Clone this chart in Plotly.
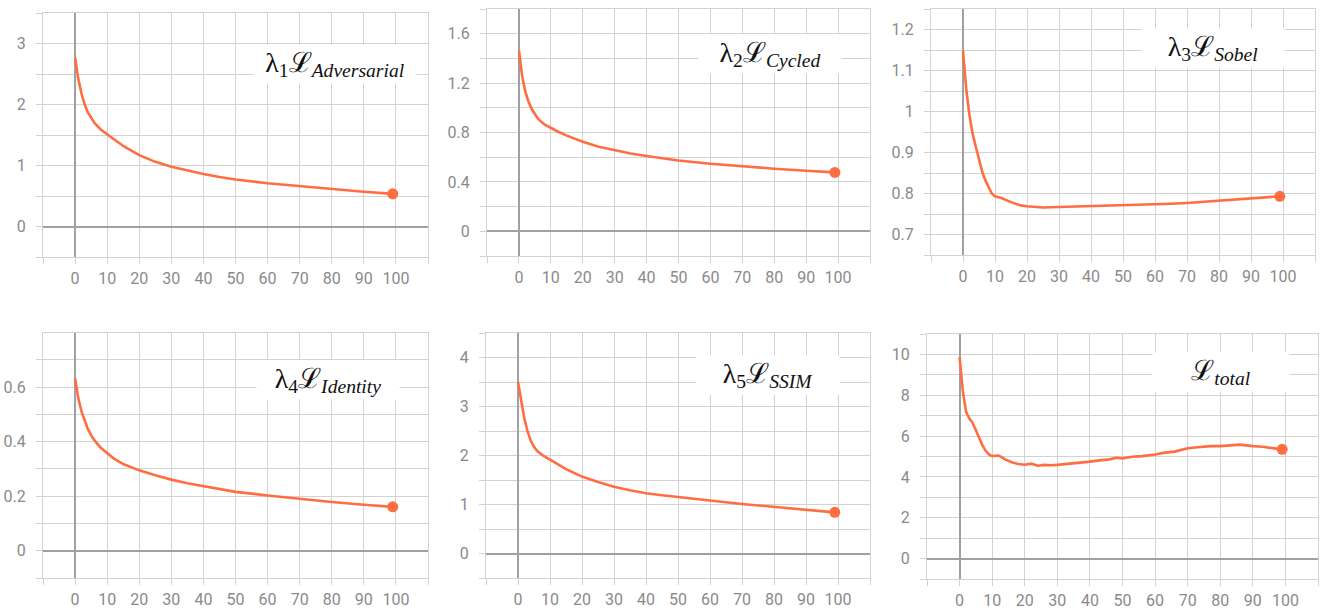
import plotly.graph_objects as go

# ---------------- data ----------------
epochs_a = [0, 1, 2, 3, 4, 5, 6, 8, 10, 12, 15, 20, 25, 30, 35, 40, 45, 50, 60, 70, 80, 90, 99]
loss_adversarial = [2.77, 2.42, 2.18, 2.00, 1.87, 1.78, 1.70, 1.59, 1.51, 1.435, 1.32, 1.17, 1.06,
                    0.98, 0.915, 0.86, 0.81, 0.77, 0.71, 0.66, 0.61, 0.57, 0.535]
loss_cycled = [1.465, 1.26, 1.13, 1.05, 0.99, 0.945, 0.91, 0.865, 0.835, 0.81, 0.775, 0.725, 0.685,
               0.655, 0.63, 0.61, 0.59, 0.573, 0.547, 0.525, 0.507, 0.49, 0.477]
loss_identity = [0.633, 0.56, 0.511, 0.474, 0.446, 0.424, 0.406, 0.378, 0.357, 0.339, 0.318, 0.295,
                 0.277, 0.261, 0.248, 0.237, 0.226, 0.216, 0.203, 0.19, 0.179, 0.169, 0.161]
loss_ssim = [3.50, 3.08, 2.75, 2.49, 2.30, 2.18, 2.09, 1.99, 1.92, 1.84, 1.72, 1.57, 1.46,
             1.36, 1.29, 1.23, 1.19, 1.15, 1.08, 1.01, 0.95, 0.89, 0.84]

epochs_sobel = [0, 1, 2, 3, 4, 5, 6, 7, 8, 9, 10, 12, 15, 18, 20, 25, 30, 40, 50, 60, 65, 70, 80, 90, 99]
loss_sobel = [1.148, 1.056, 0.992, 0.946, 0.914, 0.881, 0.853, 0.832, 0.814, 0.800, 0.793, 0.789,
              0.779, 0.771, 0.769, 0.766, 0.767, 0.769, 0.771, 0.773, 0.775, 0.777, 0.782, 0.788, 0.793]

epochs_total = [0, 1, 2, 3, 4, 5, 6, 7, 8, 9, 10, 12, 14, 16, 18, 20, 22, 24, 26, 28, 30, 33, 36, 40,
                43, 46, 48, 50, 53, 56, 60, 63, 66, 70, 73, 77, 80, 83, 86, 90, 93, 96, 99]
loss_total = [9.87, 8.2, 7.19, 6.86, 6.65, 6.26, 5.89, 5.56, 5.28, 5.10, 5.02, 5.05, 4.86, 4.72, 4.63,
              4.60, 4.65, 4.55, 4.59, 4.57, 4.59, 4.63, 4.70, 4.75, 4.81, 4.86, 4.94, 4.91, 4.99, 5.02,
              5.10, 5.19, 5.24, 5.40, 5.45, 5.51, 5.51, 5.54, 5.58, 5.51, 5.48, 5.41, 5.35]

x_tick_values = [0, 10, 20, 30, 40, 50, 60, 70, 80, 90, 100]
x_tick_labels = ["0", "10", "20", "30", "40", "50", "60", "70", "80", "90", "100"]

titles = [
    "λ<sub>1</sub>ℒ<sub><i>Adversarial</i></sub>",
    "λ<sub>2</sub>ℒ<sub><i>Cycled</i></sub>",
    "λ<sub>3</sub>ℒ<sub><i>Sobel</i></sub>",
    "λ<sub>4</sub>ℒ<sub><i>Identity</i></sub>",
    "λ<sub>5</sub>ℒ<sub><i>SSIM</i></sub>",
    "ℒ<sub><i>total</i></sub>",
]

series = [
    (epochs_a, loss_adversarial),
    (epochs_a, loss_cycled),
    (epochs_sobel, loss_sobel),
    (epochs_a, loss_identity),
    (epochs_a, loss_ssim),
    (epochs_total, loss_total),
]

# ---------------- style / layout ----------------
W, H = 1320, 610
# plot-area boxes in window pixels: (left, top, right, bottom)
boxes = [
    (43, 13, 428, 257), (487, 9, 870, 256), (931, 9, 1315, 255),
    (43, 333, 428, 578), (486, 333, 870, 578), (927, 334, 1318, 579),
]
y_ranges = [(-0.5, 3.5), (-0.2, 1.8), (0.65, 1.25), (-0.1, 0.799), (-0.5, 4.5), (-1, 11)]
y_dticks = [1, 0.4, 0.1, 0.2, 1, 2]
y_minor = [0.5, 0.2, 0.05, 0.1, 0.5, 1]
title_pos = [(0.758, 0.791, 160), (0.738, 0.816, 140), (0.734, 0.843, 140),
             (0.739, 0.81, 140), (0.734, 0.827, 140), (0.753, 0.843, 134)]

GRID = "#d2d2d2"
ZERO = "#a0a0a0"
LINE = "#ff6e40"
TICKFONT = dict(family="Roboto, sans-serif", size=16, color="#8a8a8a")

fig = go.Figure()
layout = dict(width=W, height=H, margin=dict(l=0, r=0, t=0, b=0, autoexpand=False),
              paper_bgcolor="white", plot_bgcolor="white", showlegend=False,
              annotations=[])

for i, ((xs, ys), box) in enumerate(zip(series, boxes)):
    n = i + 1
    xa = "x" if n == 1 else f"x{n}"
    ya = "y" if n == 1 else f"y{n}"
    l, t, r, b = box
    xdom = [l / W, r / W]
    ydom = [1 - b / H, 1 - t / H]

    fig.add_trace(go.Scatter(x=xs, y=ys, mode="lines", xaxis=xa, yaxis=ya,
                             line=dict(color=LINE, width=2.6, shape="linear"),
                             hoverinfo="skip"))
    fig.add_trace(go.Scatter(x=[xs[-1]], y=[ys[-1]], mode="markers", xaxis=xa, yaxis=ya,
                             marker=dict(color=LINE, size=11), hoverinfo="skip"))

    xkey = "xaxis" if n == 1 else f"xaxis{n}"
    ykey = "yaxis" if n == 1 else f"yaxis{n}"
    layout[xkey] = dict(
        domain=xdom, anchor=ya, range=[-10, 110], automargin=False,
        tickmode="array", tickvals=x_tick_values, ticktext=x_tick_labels,
        showgrid=True, gridcolor=GRID, gridwidth=1.2,
        ticks="outside", ticklen=6, tickcolor=GRID, tickwidth=1.2,
        minor=dict(tickmode="linear", tick0=0, dtick=10, showgrid=True, gridcolor=GRID, gridwidth=1.2,
                   ticks="outside", ticklen=6, tickcolor=GRID),
        zeroline=True, zerolinecolor=ZERO, zerolinewidth=2,
        showline=True, linecolor=GRID, linewidth=1.2, mirror=True,
        tickfont=TICKFONT, ticklabelstandoff=1, fixedrange=True,
    )
    y0, y1 = y_ranges[i]
    layout[ykey] = dict(
        domain=ydom, anchor=xa, range=[y0, y1], automargin=False,
        tickmode="linear", tick0=0, dtick=y_dticks[i],
        showgrid=True, gridcolor=GRID, gridwidth=1.2,
        ticks="outside", ticklen=6, tickcolor=GRID, tickwidth=1.2,
        minor=dict(tickmode="linear", tick0=0, dtick=y_minor[i], showgrid=True, gridcolor=GRID, gridwidth=1.2,
                   ticks="outside", ticklen=6, tickcolor=GRID),
        zeroline=True, zerolinecolor=ZERO, zerolinewidth=2,
        showline=True, linecolor=GRID, linewidth=1.2, mirror=True,
        tickfont=TICKFONT, ticklabelstandoff=7, fixedrange=True,
    )
    ax, ay, bw = title_pos[i]
    layout["annotations"].append(dict(
        text=titles[i], xref=f"{xa} domain", yref=f"{ya} domain", x=ax, y=ay,
        xanchor="center", yanchor="middle", showarrow=False,
        width=bw, height=36, bgcolor="white",
        font=dict(family="Liberation Serif, DejaVu Serif, serif", size=28, color="#111111"),
    ))

fig.update_layout(**layout)
fig.write_html("out.html", config={"displayModeBar": False},
               post_script="document.body.style.margin='0';document.body.style.overflow='hidden';")
